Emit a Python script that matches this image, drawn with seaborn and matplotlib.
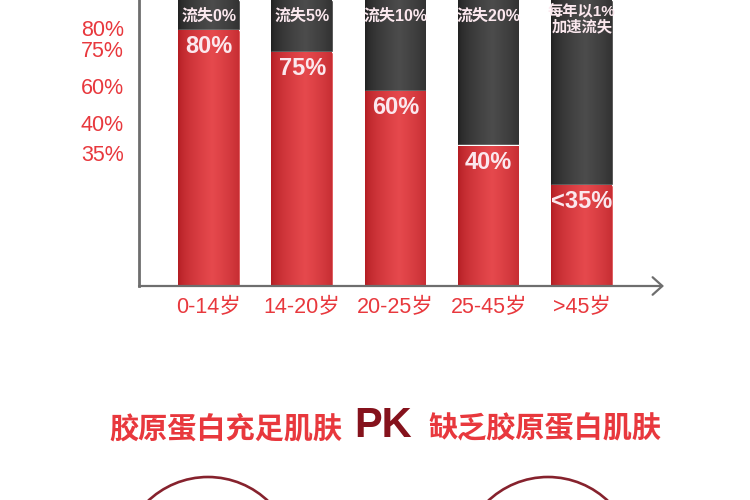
import numpy as np
import pandas as pd
import matplotlib
matplotlib.use("Agg")
import matplotlib.pyplot as plt
import matplotlib.transforms as mtransforms
from matplotlib.colors import to_rgb
from matplotlib.patches import Circle
import seaborn as sns

# ========== data ==========
age_groups = ["0-14岁", "14-20岁", "20-25岁", "25-45岁", ">45岁"]
collagen = [80, 73.4, 57.3, 36.3, 26.8]          # bar tops
total = [100, 100, 100, 100, 100]
collagen_labels = ["80%", "75%", "60%", "40%", "<35%"]
loss_labels = ["流失0%", "流失5%", "流失10%", "流失20%", "每年以1%\n加速流失"]
ytick_values = [35, 40, 60, 75, 80]
ytick_labels = ["35%", "40%", "60%", "75%", "80%"]

# the poster's value axis is not linear: value -> height above baseline
scale_values = [-1000, 0, 35, 40, 60, 75, 80, 100, 1100]
scale_heights = [-3800, 0, 133, 164, 201, 239, 257, 287, 1787]

df = pd.DataFrame({"age": age_groups, "collagen": collagen, "total": total})

RED_TXT = "#e8383d"
GRAY = "#6e6e6e"
PK_RED = "#85121c"
ARC = "#86222d"
LABEL = "#fbe8ee"


def fwd(v):
    return np.interp(v, scale_values, scale_heights)


def inv(h):
    return np.interp(h, scale_heights, scale_values)


def gradient(edge, mid, n=80):
    t = np.linspace(0, 1, n)
    w = np.clip(1 - np.abs(t - 0.55) / 0.55, 0, 1) ** 0.6
    e, m = np.array(to_rgb(edge)), np.array(to_rgb(mid))
    return (e + (m - e) * w[:, None])[None, :, :]


sns.set_style("white")
plt.rcParams["font.family"] = ["Liberation Sans", "Noto Sans CJK SC"]

fig = plt.figure(figsize=(7.5, 5), dpi=100)
ax = fig.add_axes([139 / 750, 1 - 286 / 500, (664 - 139) / 750, 286 / 500])
ax.patch.set_alpha(0)

# stacked bars: full column (lost part) then the remaining collagen on top
sns.barplot(data=df, x="age", y="total", color="#353535", width=0.66, ax=ax,
            saturation=1, zorder=1)
sns.barplot(data=df, x="age", y="collagen", color="#d93a3e", width=0.66, ax=ax,
            saturation=1, zorder=1.2)

ax.set_yscale("function", functions=(fwd, inv))

# cylinder-like shading clipped to each bar
dark_grad = gradient("#222222", "#4c4c4c")
red_grad = gradient("#b31d23", "#e6494d")
n = len(age_groups)
for i, p in enumerate(ax.patches):
    is_red = i >= n
    im = ax.imshow(red_grad if is_red else dark_grad, aspect="auto",
                   extent=[p.get_x(), p.get_x() + p.get_width(),
                           p.get_y(), p.get_y() + p.get_height()],
                   zorder=1.3 if is_red else 1.1, interpolation="bilinear")
    im.set_clip_path(p)

ax.set_xlim(-0.75, 4.88)
ax.set_ylim(0, 100)

# labels inside the bars
for i in range(n):
    ax.annotate(collagen_labels[i], xy=(i, collagen[i]), xytext=(0, -17),
                textcoords="offset pixels", ha="center", va="center",
                fontsize=17, fontweight="bold", color=LABEL, zorder=5)
    two_lines = "\n" in loss_labels[i]
    ax.annotate(loss_labels[i], xy=(i, 1), xycoords=("data", "axes fraction"),
                xytext=(0, -19 if two_lines else -16), textcoords="offset pixels",
                ha="center", va="center", fontsize=11 if two_lines else 11.5,
                fontweight="bold", color=LABEL, linespacing=1.1, zorder=5)

# axes styling
sns.despine(ax=ax, top=True, right=True, bottom=True)
ax.spines["left"].set_color(GRAY)
ax.spines["left"].set_linewidth(2)
ax.set_yticks(ytick_values)
ax.set_yticklabels(ytick_labels)
ax.tick_params(axis="y", length=8, width=2, color=GRAY, pad=3,
               labelsize=15.5, labelcolor=RED_TXT)
ax.tick_params(axis="x", length=0, pad=8, labelsize=15.5, labelcolor=RED_TXT)
ax.set_xlabel("")
ax.set_ylabel("")
ax.grid(False)

# the two top tick labels sit close together; spread them a little
for lab, dy in zip(ax.get_yticklabels(), [0, 0, 0, -1, 2]):
    lab.set_transform(lab.get_transform() +
                      mtransforms.ScaledTranslation(0, dy / 100, fig.dpi_scale_trans))

# x axis with open arrow head
ax.annotate("", xy=(1.0, 0), xytext=(0, 0), xycoords="axes fraction",
            arrowprops=dict(arrowstyle="->,head_length=0.5,head_width=0.45",
                            color=GRAY, lw=1.6, shrinkA=0, shrinkB=0,
                            mutation_scale=14), annotation_clip=False)

# heading and circles below the chart (pixel coordinates)
ov = fig.add_axes([0, 0, 1, 1], zorder=-1)
ov.set_xlim(0, 750)
ov.set_ylim(500, 0)
ov.axis("off")
ov.text(342, 428, "胶原蛋白充足肌肤", ha="right", va="center", fontsize=21,
        color=RED_TXT, fontweight="bold", family=["Noto Sans CJK SC"])
ov.text(383, 426, "PK", ha="center", va="center", fontsize=30,
        fontweight="bold", color=PK_RED)
ov.text(428, 428, "缺乏胶原蛋白肌肤", ha="left", va="center", fontsize=21,
        color=RED_TXT, fontweight="bold", family=["Noto Sans CJK SC"])
for cx in (208, 548):
    ov.add_patch(Circle((cx, 564), 87, fill=False, ec=ARC, lw=1.9))

fig.savefig("out.png", dpi=100)
